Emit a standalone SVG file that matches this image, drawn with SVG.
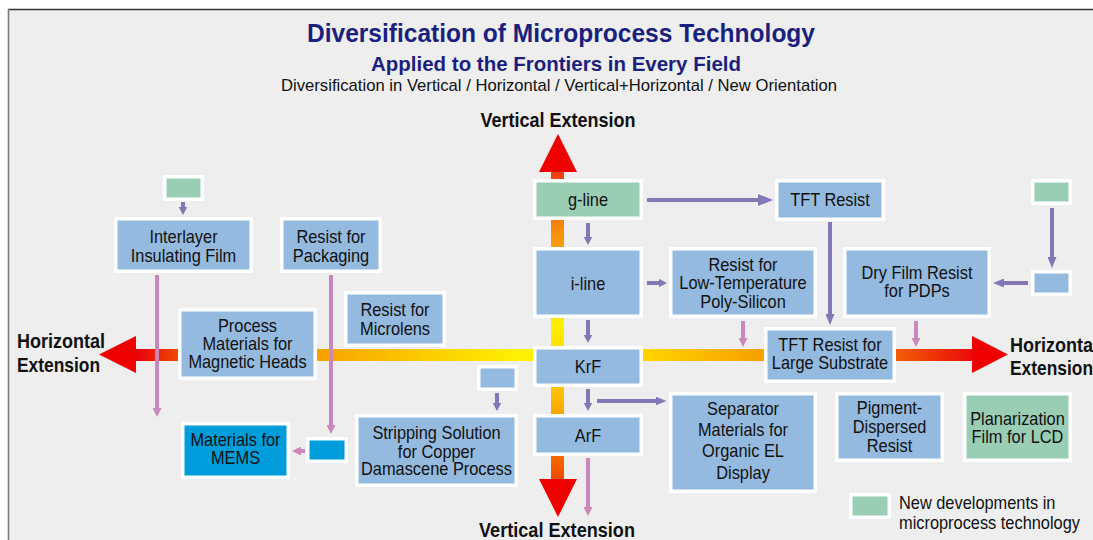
<svg xmlns="http://www.w3.org/2000/svg" width="1093" height="540" viewBox="0 0 1093 540">
  <defs>
    <style>
      .box { stroke: #ffffff; stroke-width: 3.5; }
      .b { fill: #95badf; }
      .g { fill: #99cdb4; }
      .c { fill: #009ddb; }
      .t { font-family: "Liberation Sans", Arial, sans-serif; font-size: 18px; fill: #111111; text-anchor: middle; }
      .lg { text-anchor: start; }
      .hd { font-family: "Liberation Sans", Arial, sans-serif; font-weight: bold; fill: #1b1f7e; text-anchor: middle; }
      .ext { font-family: "Liberation Sans", Arial, sans-serif; font-weight: bold; font-size: 21px; fill: #111111; }
      .pu { fill: none; stroke: #8577b5; stroke-width: 4; }
      .pk { fill: none; stroke: #c987ba; stroke-width: 4; }
      .red { fill: #ee0000; }
    </style>
    <linearGradient id="hbar" gradientUnits="userSpaceOnUse" x1="136" y1="0" x2="972" y2="0">
      <stop offset="0" stop-color="#e8000a"/>
      <stop offset="0.05" stop-color="#ef4a05"/>
      <stop offset="0.232" stop-color="#f9a600"/>
      <stop offset="0.46" stop-color="#fff200"/>
      <stop offset="0.615" stop-color="#ffd200"/>
      <stop offset="0.746" stop-color="#f9a000"/>
      <stop offset="0.914" stop-color="#f25a05"/>
      <stop offset="1" stop-color="#ea0a0a"/>
    </linearGradient>
    <linearGradient id="vbar" gradientUnits="userSpaceOnUse" x1="0" y1="172" x2="0" y2="479">
      <stop offset="0" stop-color="#f03c10"/>
      <stop offset="0.2" stop-color="#f7900a"/>
      <stop offset="0.5" stop-color="#fff000"/>
      <stop offset="0.72" stop-color="#ffc000"/>
      <stop offset="1" stop-color="#f04a00"/>
    </linearGradient>
    <marker id="ap" markerUnits="userSpaceOnUse" markerWidth="9" markerHeight="9" refX="0.5" refY="4.5" orient="auto">
      <path d="M0,0 L8.5,4.5 L0,9 z" fill="#8577b5"/>
    </marker>
    <marker id="apm" markerUnits="userSpaceOnUse" markerWidth="12" markerHeight="9" refX="0.5" refY="4.5" orient="auto">
      <path d="M0,0 L11,4.5 L0,9 z" fill="#8577b5"/>
    </marker>
    <marker id="apl" markerUnits="userSpaceOnUse" markerWidth="16" markerHeight="12" refX="0.5" refY="6" orient="auto">
      <path d="M0,0 L15,6 L0,12 z" fill="#8577b5"/>
    </marker>
    <marker id="ak" markerUnits="userSpaceOnUse" markerWidth="10" markerHeight="9" refX="0.5" refY="4.5" orient="auto">
      <path d="M0,0 L9,4.5 L0,9 z" fill="#c987ba"/>
    </marker>
  </defs>

  <!-- page and frame -->
  <rect x="0" y="0" width="1093" height="540" fill="#ffffff"/>
  <rect x="8" y="9" width="1085" height="531" fill="#eeeeee"/>
  <line x1="8" y1="9.5" x2="1093" y2="9.5" stroke="#333333" stroke-width="1.6"/>
  <line x1="8.5" y1="9" x2="8.5" y2="540" stroke="#7a7a7a" stroke-width="1.6"/>

  <!-- headings -->
  <g id="title">
    <text class="hd" x="561" y="42" font-size="25" textLength="508" lengthAdjust="spacingAndGlyphs">Diversification of Microprocess Technology</text>
    <text class="hd" x="556" y="71" font-size="21" textLength="370" lengthAdjust="spacingAndGlyphs">Applied to the Frontiers in Every Field</text>
    <text x="559" y="91" font-family="Liberation Sans, Arial, sans-serif" font-size="17" fill="#111111" text-anchor="middle" textLength="556" lengthAdjust="spacingAndGlyphs">Diversification in Vertical / Horizontal / Vertical+Horizontal / New Orientation</text>
  </g>

  <!-- extension axes -->
  <g id="axes">
    <rect x="134" y="349" width="840" height="12" fill="url(#hbar)"/>
    <rect x="551" y="170" width="13" height="311" fill="url(#vbar)"/>
    <polygon class="red" points="99,354.5 136,336 136,373"/>
    <polygon class="red" points="1008,354.5 972,336 972,373"/>
    <polygon class="red" points="558,134 539,172 577,172"/>
    <polygon class="red" points="558,517 539,479 577,479"/>
    <text class="ext" x="558" y="127" text-anchor="middle" font-size="20" textLength="155" lengthAdjust="spacingAndGlyphs">Vertical Extension</text>
    <text class="ext" x="557" y="537" text-anchor="middle" font-size="20" textLength="156" lengthAdjust="spacingAndGlyphs">Vertical Extension</text>
    <text class="ext" x="17" y="348" textLength="88" lengthAdjust="spacingAndGlyphs">Horizontal</text>
    <text class="ext" x="17" y="372" textLength="83" lengthAdjust="spacingAndGlyphs">Extension</text>
    <text class="ext" x="1010" y="351.5" textLength="88" lengthAdjust="spacingAndGlyphs">Horizontal</text>
    <text class="ext" x="1010" y="375" textLength="83" lengthAdjust="spacingAndGlyphs">Extension</text>
  </g>

  <!-- connectors -->
  <g id="connectors">
    <path class="pu" d="M183,202 V207" marker-end="url(#ap)"/>
    <path class="pu" d="M588,223 V237" marker-end="url(#ap)"/>
    <path class="pu" d="M647,283 H659" marker-end="url(#ap)"/>
    <path class="pu" d="M588,320 V335" marker-end="url(#ap)"/>
    <path class="pu" d="M588,389 V403" marker-end="url(#ap)"/>
    <path class="pu" d="M597,401 H656" marker-end="url(#apm)"/>
    <path class="pu" d="M497,393 V403" marker-end="url(#ap)"/>
    <path class="pu" d="M647,200 H758.5" stroke-width="5" marker-end="url(#apl)"/>
    <path class="pu" d="M830,222 V314.5" stroke-width="4.5" marker-end="url(#apm)"/>
    <path class="pu" d="M1052,208 V257.5" stroke-width="4.5" marker-end="url(#apm)"/>
    <path class="pu" d="M1028,283 H1003.5" stroke-width="4.5" marker-end="url(#apm)"/>
    <path class="pk" d="M157,275 V408.5" marker-end="url(#ak)"/>
    <path class="pk" d="M331,275 V425.5" marker-end="url(#ak)"/>
    <path class="pk" d="M305,451 H300.5" marker-end="url(#ak)"/>
    <path class="pk" d="M743,321 V338.5" marker-end="url(#ak)"/>
    <path class="pk" d="M916,321 V338.5" marker-end="url(#ak)"/>
    <path class="pk" d="M588,458 V507.5" marker-end="url(#ak)"/>
  </g>

  <!-- nodes -->
  <g id="n-interlayer-src"><rect class="box g" x="164.75" y="176.75" width="37.5" height="22.5"/></g>
  <g id="n-interlayer">
    <rect class="box b" x="115.75" y="218.75" width="135.5" height="52.5"/>
    <text class="t" transform="translate(183.5 0) scale(.91 1)"><tspan x="0" y="243">Interlayer</tspan><tspan x="0" y="262">Insulating Film</tspan></text>
  </g>
  <g id="n-packaging">
    <rect class="box b" x="281.75" y="218.75" width="98.5" height="52.5"/>
    <text class="t" transform="translate(331 0) scale(.91 1)"><tspan x="0" y="243">Resist for</tspan><tspan x="0" y="262">Packaging</tspan></text>
  </g>
  <g id="n-magnetic">
    <rect class="box b" x="179.75" y="309.75" width="135.5" height="68.5"/>
    <text class="t" transform="translate(247.5 0) scale(.91 1)"><tspan x="0" y="332.5">Process</tspan><tspan x="0" y="350.5">Materials for</tspan><tspan x="0" y="368.5">Magnetic Heads</tspan></text>
  </g>
  <g id="n-microlens">
    <rect class="box b" x="345.75" y="292.75" width="98.5" height="52.5"/>
    <text class="t" transform="translate(395 0) scale(.91 1)"><tspan x="0" y="316.5">Resist for</tspan><tspan x="0" y="335">Microlens</tspan></text>
  </g>
  <g id="n-gline">
    <rect class="box g" x="534.75" y="180.75" width="106.5" height="37.5"/>
    <text class="t" transform="translate(588 0) scale(.91 1)"><tspan x="0" y="206.5">g-line</tspan></text>
  </g>
  <g id="n-iline">
    <rect class="box b" x="534.75" y="248.75" width="106.5" height="67.5"/>
    <text class="t" transform="translate(588 0) scale(.91 1)"><tspan x="0" y="290">i-line</tspan></text>
  </g>
  <g id="n-krf">
    <rect class="box b" x="534.75" y="347.75" width="106.5" height="37.5"/>
    <text class="t" transform="translate(588 0) scale(.91 1)"><tspan x="0" y="373">KrF</tspan></text>
  </g>
  <g id="n-arf">
    <rect class="box b" x="534.75" y="415.75" width="106.5" height="38.5"/>
    <text class="t" transform="translate(588 0) scale(.91 1)"><tspan x="0" y="442">ArF</tspan></text>
  </g>
  <g id="n-tft">
    <rect class="box b" x="776.75" y="180.75" width="106.5" height="38.5"/>
    <text class="t" transform="translate(830 0) scale(.91 1)"><tspan x="0" y="206.5">TFT Resist</tspan></text>
  </g>
  <g id="n-ltps">
    <rect class="box b" x="670.75" y="248.75" width="144.5" height="67.5"/>
    <text class="t" transform="translate(743 0) scale(.91 1)"><tspan x="0" y="271">Resist for</tspan><tspan x="0" y="289.5">Low-Temperature</tspan><tspan x="0" y="308">Poly-Silicon</tspan></text>
  </g>
  <g id="n-pdp-src"><rect class="box g" x="1032.75" y="180.75" width="37.5" height="22.5"/></g>
  <g id="n-pdp-mid"><rect class="box b" x="1032.75" y="271.75" width="37.5" height="22.5"/></g>
  <g id="n-dryfilm">
    <rect class="box b" x="844.75" y="248.75" width="144.5" height="67.5"/>
    <text class="t" transform="translate(917 0) scale(.91 1)"><tspan x="0" y="279">Dry Film Resist</tspan><tspan x="0" y="297">for PDPs</tspan></text>
  </g>
  <g id="n-tftlarge">
    <rect class="box b" x="765.75" y="328.75" width="128.5" height="52.5"/>
    <text class="t" transform="translate(830 0) scale(.91 1)"><tspan x="0" y="351">TFT Resist for</tspan><tspan x="0" y="369">Large Substrate</tspan></text>
  </g>
  <g id="n-separator">
    <rect class="box b" x="670.75" y="393.75" width="144.5" height="97.5"/>
    <text class="t" transform="translate(743 0) scale(.91 1)"><tspan x="0" y="415">Separator</tspan><tspan x="0" y="436">Materials for</tspan><tspan x="0" y="457.5">Organic EL</tspan><tspan x="0" y="479">Display</tspan></text>
  </g>
  <g id="n-pigment">
    <rect class="box b" x="836.75" y="393.75" width="105.5" height="66.5"/>
    <text class="t" transform="translate(889.5 0) scale(.91 1)"><tspan x="0" y="414.5">Pigment-</tspan><tspan x="0" y="433.5">Dispersed</tspan><tspan x="0" y="452.5">Resist</tspan></text>
  </g>
  <g id="n-planarization">
    <rect class="box g" x="964.75" y="393.75" width="105.5" height="66.5"/>
    <text class="t" transform="translate(1017.5 0) scale(.91 1)"><tspan x="0" y="425">Planarization</tspan><tspan x="0" y="443">Film for LCD</tspan></text>
  </g>
  <g id="n-stripping-src"><rect class="box b" x="478.75" y="366.75" width="37.5" height="22.5"/></g>
  <g id="n-stripping">
    <rect class="box b" x="356.75" y="415.75" width="159.5" height="69.5"/>
    <text class="t" transform="translate(436.5 0) scale(.91 1)"><tspan x="0" y="439.5">Stripping Solution</tspan><tspan x="0" y="458">for Copper</tspan><tspan x="0" y="475.5">Damascene Process</tspan></text>
  </g>
  <g id="n-mems-src"><rect class="box c" x="307.75" y="438.75" width="38.5" height="22.5"/></g>
  <g id="n-mems">
    <rect class="box c" x="182.75" y="423.75" width="105.5" height="53.5"/>
    <text class="t" transform="translate(235.5 0) scale(.91 1)"><tspan x="0" y="446">Materials for</tspan><tspan x="0" y="464">MEMS</tspan></text>
  </g>

  <!-- legend -->
  <g id="legend">
    <rect class="box g" x="850.75" y="494.75" width="38.5" height="22.5"/>
    <text class="t lg" transform="translate(899 0) scale(.91 1)"><tspan x="0" y="509.5">New developments in</tspan><tspan x="0" y="529">microprocess technology</tspan></text>
  </g>
</svg>
